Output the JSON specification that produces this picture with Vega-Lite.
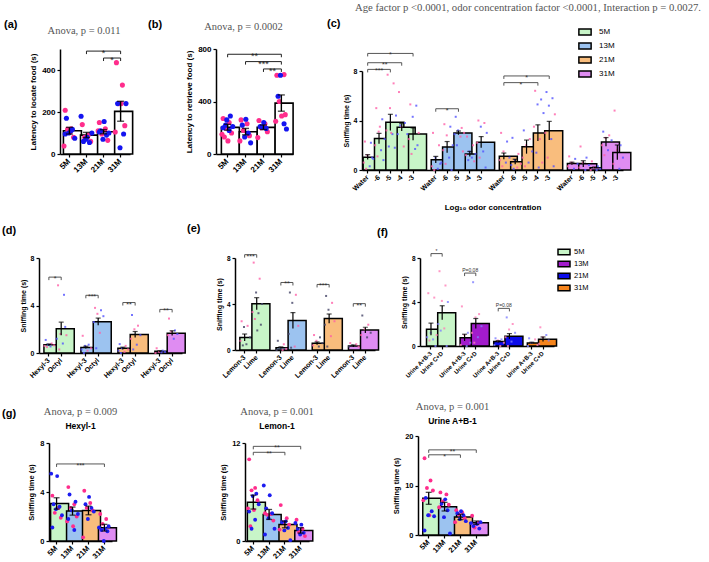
{
"$schema": "https://vega.github.io/schema/vega-lite/v6.json",
"padding": {"left": 2, "top": 2, "right": 2, "bottom": 2},
"background": "white",
"title": {"text": "Age factor p <0.0001, odor concentration factor <0.0001, Interaction p = 0.0027.", "anchor": "start", "frame": "group", "dx": 316, "fontSize": 10.7, "offset": 4},
"config": {
 "view": {"stroke": null},
 "font": "Liberation Sans",
 "axis": {"grid": false, "domainColor": "#000", "domainWidth": 1.5, "tickColor": "#000", "tickWidth": 1.2, "tickSize": 3, "labelFont": "Liberation Sans", "labelFontWeight": "bold", "labelColor": "#000", "titleFont": "Liberation Sans", "titleFontWeight": "bold", "titleColor": "#000", "labelPadding": 2, "titlePadding": 4},
 "axisX": {"labelAngle": -45, "labelAlign": "right", "labelBaseline": "middle", "labelOverlap": false, "labelPadding": 3},
 "title": {"font": "Liberation Serif", "fontSize": 10.5, "fontWeight": "normal", "color": "#555", "subtitleFont": "Liberation Sans", "subtitleFontWeight": "bold", "subtitleColor": "#000", "subtitleFontSize": 8.5, "subtitlePadding": 4},
 "legend": {"labelFont": "Liberation Sans", "labelColor": "#000"}
},
"datasets": {
 "empty": [],
 "aB": [{"k":"5M","m":111,"lo":95,"hi":127},{"k":"13M","m":90,"lo":78,"hi":103},{"k":"21M","m":106,"lo":96,"hi":116},{"k":"31M","m":203,"lo":156,"hi":251}],
 "aD": [
  {"k":"5M","v":208,"s":"F","i":2},{"k":"5M","v":120,"s":"F","i":7},{"k":"5M","v":118,"s":"F","i":4},{"k":"5M","v":80,"s":"F","i":9},{"k":"5M","v":38,"s":"F","i":1},{"k":"5M","v":105,"s":"F","i":6},{"k":"5M","v":170,"s":"M","i":3},{"k":"5M","v":118,"s":"M","i":8},{"k":"5M","v":100,"s":"M","i":5},{"k":"5M","v":75,"s":"M","i":10},{"k":"5M","v":95,"s":"M","i":2},{"k":"5M","v":112,"s":"M","i":7},
  {"k":"13M","v":140,"s":"F","i":2},{"k":"13M","v":90,"s":"F","i":7},{"k":"13M","v":80,"s":"F","i":4},{"k":"13M","v":60,"s":"F","i":9},{"k":"13M","v":180,"s":"M","i":1},{"k":"13M","v":80,"s":"M","i":6},{"k":"13M","v":60,"s":"M","i":3},{"k":"13M","v":55,"s":"M","i":8},{"k":"13M","v":70,"s":"M","i":5},{"k":"13M","v":100,"s":"M","i":10},
  {"k":"21M","v":150,"s":"F","i":2},{"k":"21M","v":120,"s":"F","i":7},{"k":"21M","v":95,"s":"F","i":4},{"k":"21M","v":65,"s":"F","i":9},{"k":"21M","v":110,"s":"F","i":1},{"k":"21M","v":155,"s":"M","i":6},{"k":"21M","v":110,"s":"M","i":3},{"k":"21M","v":90,"s":"M","i":8},{"k":"21M","v":70,"s":"M","i":5},{"k":"21M","v":100,"s":"M","i":10},{"k":"21M","v":105,"s":"M","i":2},
  {"k":"31M","v":435,"s":"F","i":2},{"k":"31M","v":328,"s":"F","i":7},{"k":"31M","v":240,"s":"F","i":4},{"k":"31M","v":135,"s":"F","i":9},{"k":"31M","v":105,"s":"F","i":1},{"k":"31M","v":240,"s":"F","i":6},{"k":"31M","v":240,"s":"M","i":3},{"k":"31M","v":95,"s":"M","i":8},{"k":"31M","v":30,"s":"M","i":5},{"k":"31M","v":240,"s":"M","i":10}],
 "aK": [{"x1":"13M","x2":"31M","y":490,"t":"*","sx":"21M","h":0},{"x1":"21M","x2":"31M","y":457,"t":"*","sx":"21M","h":1}],
 "bB": [{"k":"5M","m":203,"lo":181,"hi":226},{"k":"13M","m":170,"lo":146,"hi":195},{"k":"21M","m":203,"lo":186,"hi":221},{"k":"31M","m":388,"lo":326,"hi":450}],
 "bD": [
  {"k":"5M","v":270,"s":"F","i":2},{"k":"5M","v":240,"s":"F","i":7},{"k":"5M","v":200,"s":"F","i":4},{"k":"5M","v":160,"s":"F","i":9},{"k":"5M","v":150,"s":"F","i":1},{"k":"5M","v":100,"s":"F","i":6},{"k":"5M","v":130,"s":"F","i":3},{"k":"5M","v":290,"s":"M","i":8},{"k":"5M","v":260,"s":"M","i":5},{"k":"5M","v":210,"s":"M","i":10},{"k":"5M","v":200,"s":"M","i":2},{"k":"5M","v":180,"s":"M","i":7},{"k":"5M","v":220,"s":"M","i":4},
  {"k":"13M","v":260,"s":"F","i":2},{"k":"13M","v":230,"s":"F","i":7},{"k":"13M","v":180,"s":"F","i":4},{"k":"13M","v":140,"s":"F","i":9},{"k":"13M","v":100,"s":"F","i":1},{"k":"13M","v":265,"s":"M","i":6},{"k":"13M","v":220,"s":"M","i":3},{"k":"13M","v":160,"s":"M","i":8},{"k":"13M","v":130,"s":"M","i":5},{"k":"13M","v":85,"s":"M","i":10},
  {"k":"21M","v":255,"s":"F","i":2},{"k":"21M","v":230,"s":"F","i":7},{"k":"21M","v":200,"s":"F","i":4},{"k":"21M","v":170,"s":"F","i":9},{"k":"21M","v":125,"s":"F","i":1},{"k":"21M","v":240,"s":"M","i":6},{"k":"21M","v":210,"s":"M","i":3},{"k":"21M","v":195,"s":"M","i":8},{"k":"21M","v":205,"s":"M","i":5},
  {"k":"31M","v":600,"s":"F","i":2},{"k":"31M","v":605,"s":"F","i":8},{"k":"31M","v":400,"s":"F","i":4},{"k":"31M","v":300,"s":"F","i":9},{"k":"31M","v":250,"s":"F","i":1},{"k":"31M","v":290,"s":"F","i":6},{"k":"31M","v":600,"s":"M","i":5},{"k":"31M","v":440,"s":"M","i":3},{"k":"31M","v":230,"s":"M","i":8},{"k":"31M","v":190,"s":"M","i":10}],
 "bK": [{"x1":"5M","x2":"31M","y":760,"t":"**","sx":"13M","h":1},{"x1":"13M","x2":"31M","y":704,"t":"***","sx":"21M","h":0},{"x1":"21M","x2":"31M","y":648,"t":"**","sx":"21M","h":1}],
 "cB": [
  {"k":"5M|Water","g":"5M","m":1.04,"lo":0.84,"hi":1.24},{"k":"5M|-6","g":"5M","m":2.54,"lo":2.12,"hi":2.96},{"k":"5M|-5","g":"5M","m":3.85,"lo":3.2,"hi":4.5},{"k":"5M|-4","g":"5M","m":3.45,"lo":3.15,"hi":3.75},{"k":"5M|-3","g":"5M","m":2.9,"lo":2.4,"hi":3.4},
  {"k":"13M|Water","g":"13M","m":0.83,"lo":0.56,"hi":1.1},{"k":"13M|-6","g":"13M","m":1.85,"lo":1.4,"hi":2.3},{"k":"13M|-5","g":"13M","m":3.0,"lo":2.85,"hi":3.15},{"k":"13M|-4","g":"13M","m":1.3,"lo":1.1,"hi":1.5},{"k":"13M|-3","g":"13M","m":2.25,"lo":1.8,"hi":2.7},
  {"k":"21M|Water","g":"21M","m":1.12,"lo":0.87,"hi":1.37},{"k":"21M|-6","g":"21M","m":0.67,"lo":0.47,"hi":0.87},{"k":"21M|-5","g":"21M","m":1.87,"lo":1.32,"hi":2.42},{"k":"21M|-4","g":"21M","m":3.0,"lo":2.35,"hi":3.65},{"k":"21M|-3","g":"21M","m":3.18,"lo":2.43,"hi":3.93},
  {"k":"31M|Water","g":"31M","m":0.53,"lo":0.43,"hi":0.63},{"k":"31M|-6","g":"31M","m":0.5,"lo":0.25,"hi":0.75},{"k":"31M|-5","g":"31M","m":0.19,"lo":0.14,"hi":0.24},{"k":"31M|-4","g":"31M","m":2.27,"lo":1.92,"hi":2.62},{"k":"31M|-3","g":"31M","m":1.42,"lo":0.82,"hi":2.02}],
 "cD": [
  {"k":"5M|Water","v":2.3,"s":"F","i":2},{"k":"5M|Water","v":2.2,"s":"M","i":7},{"k":"5M|Water","v":1.2,"s":"F","i":4},{"k":"5M|Water","v":0.9,"s":"M","i":9},{"k":"5M|Water","v":0.6,"s":"F","i":1},{"k":"5M|Water","v":0.3,"s":"M","i":6},{"k":"5M|Water","v":0.1,"s":"F","i":3},{"k":"5M|Water","v":1.0,"s":"M","i":8},
  {"k":"5M|-6","v":5.0,"s":"F","i":2},{"k":"5M|-6","v":4.1,"s":"M","i":7},{"k":"5M|-6","v":3.1,"s":"F","i":4},{"k":"5M|-6","v":2.5,"s":"M","i":9},{"k":"5M|-6","v":2.0,"s":"F","i":1},{"k":"5M|-6","v":1.6,"s":"M","i":6},{"k":"5M|-6","v":1.1,"s":"F","i":3},{"k":"5M|-6","v":0.8,"s":"M","i":8},{"k":"5M|-6","v":3.5,"s":"F","i":5},
  {"k":"5M|-5","v":7.7,"s":"F","i":2},{"k":"5M|-5","v":7.0,"s":"F","i":7},{"k":"5M|-5","v":5.0,"s":"F","i":4},{"k":"5M|-5","v":4.4,"s":"M","i":9},{"k":"5M|-5","v":3.2,"s":"F","i":1},{"k":"5M|-5","v":2.9,"s":"M","i":6},{"k":"5M|-5","v":1.9,"s":"M","i":3},{"k":"5M|-5","v":1.8,"s":"M","i":8},{"k":"5M|-5","v":3.0,"s":"F","i":5},
  {"k":"5M|-4","v":6.3,"s":"F","i":2},{"k":"5M|-4","v":3.8,"s":"M","i":7},{"k":"5M|-4","v":3.5,"s":"F","i":4},{"k":"5M|-4","v":2.9,"s":"M","i":9},{"k":"5M|-4","v":2.9,"s":"M","i":1},{"k":"5M|-4","v":1.9,"s":"F","i":6},{"k":"5M|-4","v":3.6,"s":"M","i":3},
  {"k":"5M|-3","v":5.3,"s":"F","i":2},{"k":"5M|-3","v":5.2,"s":"M","i":7},{"k":"5M|-3","v":4.3,"s":"M","i":4},{"k":"5M|-3","v":3.0,"s":"F","i":9},{"k":"5M|-3","v":2.5,"s":"F","i":1},{"k":"5M|-3","v":1.7,"s":"M","i":6},{"k":"5M|-3","v":1.3,"s":"F","i":3},{"k":"5M|-3","v":2.0,"s":"M","i":8},
  {"k":"13M|Water","v":3.0,"s":"F","i":2},{"k":"13M|Water","v":2.0,"s":"F","i":7},{"k":"13M|Water","v":1.0,"s":"M","i":4},{"k":"13M|Water","v":0.6,"s":"M","i":9},{"k":"13M|Water","v":0.3,"s":"F","i":1},{"k":"13M|Water","v":0.1,"s":"M","i":6},{"k":"13M|Water","v":0.0,"s":"F","i":3},{"k":"13M|Water","v":0.5,"s":"M","i":8},
  {"k":"13M|-6","v":3.7,"s":"F","i":2},{"k":"13M|-6","v":3.5,"s":"M","i":7},{"k":"13M|-6","v":2.8,"s":"F","i":4},{"k":"13M|-6","v":2.0,"s":"M","i":9},{"k":"13M|-6","v":1.6,"s":"F","i":1},{"k":"13M|-6","v":1.0,"s":"M","i":6},{"k":"13M|-6","v":0.5,"s":"F","i":3},{"k":"13M|-6","v":0.0,"s":"M","i":8},
  {"k":"13M|-5","v":4.3,"s":"M","i":2},{"k":"13M|-5","v":3.4,"s":"F","i":7},{"k":"13M|-5","v":3.2,"s":"M","i":4},{"k":"13M|-5","v":3.0,"s":"F","i":9},{"k":"13M|-5","v":2.9,"s":"M","i":1},{"k":"13M|-5","v":2.7,"s":"F","i":6},{"k":"13M|-5","v":2.0,"s":"M","i":3},{"k":"13M|-5","v":1.5,"s":"F","i":8},
  {"k":"13M|-4","v":2.7,"s":"F","i":2},{"k":"13M|-4","v":2.0,"s":"F","i":7},{"k":"13M|-4","v":1.5,"s":"M","i":4},{"k":"13M|-4","v":1.3,"s":"M","i":9},{"k":"13M|-4","v":1.2,"s":"F","i":1},{"k":"13M|-4","v":1.0,"s":"M","i":6},{"k":"13M|-4","v":0.8,"s":"M","i":3},{"k":"13M|-4","v":0.7,"s":"F","i":8},
  {"k":"13M|-3","v":4.0,"s":"F","i":2},{"k":"13M|-3","v":3.8,"s":"F","i":7},{"k":"13M|-3","v":3.5,"s":"M","i":4},{"k":"13M|-3","v":3.0,"s":"M","i":9},{"k":"13M|-3","v":2.2,"s":"F","i":1},{"k":"13M|-3","v":1.5,"s":"M","i":6},{"k":"13M|-3","v":1.0,"s":"F","i":3},{"k":"13M|-3","v":0.2,"s":"M","i":8},
  {"k":"21M|Water","v":3.0,"s":"F","i":2},{"k":"21M|Water","v":2.3,"s":"M","i":7},{"k":"21M|Water","v":1.5,"s":"F","i":4},{"k":"21M|Water","v":1.0,"s":"M","i":9},{"k":"21M|Water","v":0.8,"s":"F","i":1},{"k":"21M|Water","v":0.6,"s":"M","i":6},{"k":"21M|Water","v":0.3,"s":"F","i":3},
  {"k":"21M|-6","v":2.6,"s":"M","i":2},{"k":"21M|-6","v":1.3,"s":"F","i":7},{"k":"21M|-6","v":0.8,"s":"M","i":4},{"k":"21M|-6","v":0.5,"s":"F","i":9},{"k":"21M|-6","v":0.4,"s":"M","i":1},{"k":"21M|-6","v":0.2,"s":"F","i":6},{"k":"21M|-6","v":0.1,"s":"M","i":3},
  {"k":"21M|-5","v":3.2,"s":"M","i":2},{"k":"21M|-5","v":2.5,"s":"F","i":7},{"k":"21M|-5","v":2.0,"s":"F","i":4},{"k":"21M|-5","v":1.5,"s":"M","i":9},{"k":"21M|-5","v":1.0,"s":"F","i":1},{"k":"21M|-5","v":0.6,"s":"M","i":6},{"k":"21M|-5","v":0.3,"s":"F","i":3},
  {"k":"21M|-4","v":6.4,"s":"F","i":2},{"k":"21M|-4","v":5.7,"s":"M","i":7},{"k":"21M|-4","v":5.3,"s":"M","i":4},{"k":"21M|-4","v":4.6,"s":"M","i":9},{"k":"21M|-4","v":3.5,"s":"F","i":1},{"k":"21M|-4","v":2.5,"s":"F","i":6},{"k":"21M|-4","v":1.4,"s":"M","i":3},{"k":"21M|-4","v":0.6,"s":"F","i":8},{"k":"21M|-4","v":0.2,"s":"M","i":5},
  {"k":"21M|-3","v":6.3,"s":"M","i":2},{"k":"21M|-3","v":5.8,"s":"M","i":7},{"k":"21M|-3","v":5.2,"s":"M","i":4},{"k":"21M|-3","v":4.5,"s":"F","i":9},{"k":"21M|-3","v":3.0,"s":"F","i":1},{"k":"21M|-3","v":2.5,"s":"M","i":6},{"k":"21M|-3","v":1.0,"s":"F","i":3},{"k":"21M|-3","v":0.3,"s":"M","i":8},
  {"k":"31M|Water","v":1.1,"s":"F","i":2},{"k":"31M|Water","v":0.9,"s":"M","i":7},{"k":"31M|Water","v":0.6,"s":"F","i":4},{"k":"31M|Water","v":0.5,"s":"M","i":9},{"k":"31M|Water","v":0.3,"s":"F","i":1},{"k":"31M|Water","v":0.1,"s":"M","i":6},
  {"k":"31M|-6","v":1.9,"s":"F","i":2},{"k":"31M|-6","v":1.0,"s":"M","i":7},{"k":"31M|-6","v":0.6,"s":"F","i":4},{"k":"31M|-6","v":0.4,"s":"M","i":9},{"k":"31M|-6","v":0.2,"s":"F","i":1},{"k":"31M|-6","v":0.0,"s":"M","i":6},
  {"k":"31M|-5","v":0.7,"s":"F","i":2},{"k":"31M|-5","v":0.3,"s":"M","i":7},{"k":"31M|-5","v":0.2,"s":"F","i":4},{"k":"31M|-5","v":0.1,"s":"M","i":9},{"k":"31M|-5","v":0.0,"s":"F","i":1},{"k":"31M|-5","v":0.0,"s":"M","i":6},
  {"k":"31M|-4","v":3.1,"s":"M","i":2},{"k":"31M|-4","v":2.8,"s":"F","i":7},{"k":"31M|-4","v":2.6,"s":"F","i":4},{"k":"31M|-4","v":2.4,"s":"M","i":9},{"k":"31M|-4","v":2.0,"s":"F","i":1},{"k":"31M|-4","v":1.6,"s":"M","i":6},{"k":"31M|-4","v":1.2,"s":"F","i":3},
  {"k":"31M|-3","v":4.8,"s":"F","i":2},{"k":"31M|-3","v":2.0,"s":"M","i":7},{"k":"31M|-3","v":1.6,"s":"F","i":4},{"k":"31M|-3","v":1.0,"s":"M","i":9},{"k":"31M|-3","v":0.5,"s":"F","i":1},{"k":"31M|-3","v":0.1,"s":"M","i":6}],
 "cK": [
  {"x1":"5M|Water","x2":"5M|-3","y":9.42,"t":"*","sx":"5M|-5","h":0},
  {"x1":"5M|Water","x2":"5M|-4","y":8.67,"t":"**","sx":"5M|-6","h":1},
  {"x1":"5M|Water","x2":"5M|-5","y":8.13,"t":"***","sx":"5M|-6","h":0},
  {"x1":"13M|Water","x2":"13M|-5","y":4.95,"t":"*","sx":"13M|-6","h":0},
  {"x1":"21M|Water","x2":"21M|-3","y":7.6,"t":"*","sx":"21M|-5","h":0},
  {"x1":"21M|Water","x2":"21M|-4","y":7.06,"t":"*","sx":"21M|-6","h":1}],
 "dB": [
  {"k":"5M|Hexyl-3","g":"5M","m":0.69,"lo":0.62,"hi":0.76},{"k":"5M|Octyl","g":"5M","m":2.05,"lo":1.5,"hi":2.6},
  {"k":"13M|Hexyl-3","g":"13M","m":0.47,"lo":0.37,"hi":0.57},{"k":"13M|Octyl","g":"13M","m":2.64,"lo":2.34,"hi":2.94},
  {"k":"21M|Hexyl-3","g":"21M","m":0.39,"lo":0.29,"hi":0.49},{"k":"21M|Octyl","g":"21M","m":1.56,"lo":1.31,"hi":1.81},
  {"k":"31M|Hexyl-3","g":"31M","m":0.14,"lo":0.09,"hi":0.19},{"k":"31M|Octyl","g":"31M","m":1.67,"lo":1.47,"hi":1.87}],
 "dD": [
  {"k":"5M|Hexyl-3","v":1.1,"s":"M","i":2},{"k":"5M|Hexyl-3","v":0.8,"s":"F","i":7},{"k":"5M|Hexyl-3","v":0.7,"s":"M","i":4},{"k":"5M|Hexyl-3","v":0.65,"s":"F","i":9},{"k":"5M|Hexyl-3","v":0.6,"s":"F","i":1},{"k":"5M|Hexyl-3","v":0.55,"s":"M","i":6},{"k":"5M|Hexyl-3","v":0.5,"s":"F","i":3},
  {"k":"5M|Octyl","v":5.7,"s":"F","i":2},{"k":"5M|Octyl","v":4.9,"s":"M","i":7},{"k":"5M|Octyl","v":1.6,"s":"F","i":4},{"k":"5M|Octyl","v":1.5,"s":"F","i":9},{"k":"5M|Octyl","v":1.2,"s":"M","i":1},{"k":"5M|Octyl","v":0.8,"s":"M","i":6},{"k":"5M|Octyl","v":0.3,"s":"F","i":3},{"k":"5M|Octyl","v":2.2,"s":"M","i":8},
  {"k":"13M|Hexyl-3","v":1.45,"s":"F","i":2},{"k":"13M|Hexyl-3","v":0.7,"s":"M","i":7},{"k":"13M|Hexyl-3","v":0.6,"s":"M","i":4},{"k":"13M|Hexyl-3","v":0.4,"s":"F","i":9},{"k":"13M|Hexyl-3","v":0.3,"s":"M","i":1},{"k":"13M|Hexyl-3","v":0.2,"s":"F","i":6},{"k":"13M|Hexyl-3","v":0.0,"s":"M","i":3},
  {"k":"13M|Octyl","v":3.8,"s":"F","i":2},{"k":"13M|Octyl","v":3.6,"s":"M","i":7},{"k":"13M|Octyl","v":3.3,"s":"F","i":4},{"k":"13M|Octyl","v":3.1,"s":"M","i":9},{"k":"13M|Octyl","v":2.6,"s":"M","i":1},{"k":"13M|Octyl","v":1.7,"s":"F","i":6},{"k":"13M|Octyl","v":0.4,"s":"M","i":3},
  {"k":"21M|Hexyl-3","v":0.75,"s":"M","i":2},{"k":"21M|Hexyl-3","v":0.6,"s":"F","i":7},{"k":"21M|Hexyl-3","v":0.4,"s":"M","i":4},{"k":"21M|Hexyl-3","v":0.3,"s":"F","i":9},{"k":"21M|Hexyl-3","v":0.2,"s":"M","i":1},{"k":"21M|Hexyl-3","v":0.1,"s":"F","i":6},{"k":"21M|Hexyl-3","v":0.0,"s":"M","i":3},
  {"k":"21M|Octyl","v":3.2,"s":"M","i":2},{"k":"21M|Octyl","v":2.3,"s":"F","i":7},{"k":"21M|Octyl","v":2.0,"s":"F","i":4},{"k":"21M|Octyl","v":1.5,"s":"M","i":9},{"k":"21M|Octyl","v":1.2,"s":"F","i":1},{"k":"21M|Octyl","v":0.7,"s":"M","i":6},{"k":"21M|Octyl","v":0.3,"s":"M","i":3},
  {"k":"31M|Hexyl-3","v":0.4,"s":"F","i":2},{"k":"31M|Hexyl-3","v":0.2,"s":"M","i":7},{"k":"31M|Hexyl-3","v":0.1,"s":"F","i":4},{"k":"31M|Hexyl-3","v":0.1,"s":"M","i":9},{"k":"31M|Hexyl-3","v":0.0,"s":"F","i":1},{"k":"31M|Hexyl-3","v":0.05,"s":"M","i":6},
  {"k":"31M|Octyl","v":2.9,"s":"F","i":2},{"k":"31M|Octyl","v":1.9,"s":"M","i":7},{"k":"31M|Octyl","v":1.8,"s":"F","i":4},{"k":"31M|Octyl","v":1.6,"s":"M","i":9},{"k":"31M|Octyl","v":1.5,"s":"F","i":1},{"k":"31M|Octyl","v":1.2,"s":"M","i":6}],
 "dK": [
  {"x1":"5M|Hexyl-3","x2":"5M|Octyl","y":6.39,"t":"*","sx":"5M|Hexyl-3","h":1},
  {"x1":"13M|Hexyl-3","x2":"13M|Octyl","y":4.86,"t":"***","sx":"13M|Hexyl-3","h":1},
  {"x1":"21M|Hexyl-3","x2":"21M|Octyl","y":4.25,"t":"**","sx":"21M|Hexyl-3","h":1},
  {"x1":"31M|Hexyl-3","x2":"31M|Octyl","y":3.67,"t":"**","sx":"31M|Hexyl-3","h":1}],
 "eB": [
  {"k":"5M|Lemon-3","g":"5M","m":1.09,"lo":0.79,"hi":1.39},{"k":"5M|Lime","g":"5M","m":4.03,"lo":3.51,"hi":4.55},
  {"k":"13M|Lemon-3","g":"13M","m":0.2,"lo":0.13,"hi":0.27},{"k":"13M|Lime","g":"13M","m":2.56,"lo":1.87,"hi":3.25},
  {"k":"21M|Lemon-3","g":"21M","m":0.58,"lo":0.46,"hi":0.7},{"k":"21M|Lime","g":"21M","m":2.73,"lo":2.33,"hi":3.13},
  {"k":"31M|Lemon-3","g":"31M","m":0.35,"lo":0.27,"hi":0.43},{"k":"31M|Lime","g":"31M","m":1.73,"lo":1.48,"hi":1.98}],
 "eD": [
  {"k":"5M|Lemon-3","v":2.5,"s":"F","i":2},{"k":"5M|Lemon-3","v":2.1,"s":"F","i":7},{"k":"5M|Lemon-3","v":2.0,"s":"M","i":4},{"k":"5M|Lemon-3","v":1.1,"s":"M","i":9},{"k":"5M|Lemon-3","v":0.8,"s":"F","i":1},{"k":"5M|Lemon-3","v":0.5,"s":"M","i":6},{"k":"5M|Lemon-3","v":0.4,"s":"M","i":3},
  {"k":"5M|Lime","v":7.6,"s":"F","i":2},{"k":"5M|Lime","v":6.2,"s":"F","i":7},{"k":"5M|Lime","v":5.0,"s":"M","i":4},{"k":"5M|Lime","v":4.0,"s":"M","i":9},{"k":"5M|Lime","v":3.3,"s":"F","i":1},{"k":"5M|Lime","v":3.2,"s":"M","i":6},{"k":"5M|Lime","v":2.7,"s":"F","i":3},{"k":"5M|Lime","v":2.2,"s":"M","i":8},{"k":"5M|Lime","v":1.7,"s":"M","i":5},
  {"k":"13M|Lemon-3","v":0.8,"s":"M","i":2},{"k":"13M|Lemon-3","v":0.5,"s":"F","i":7},{"k":"13M|Lemon-3","v":0.2,"s":"M","i":4},{"k":"13M|Lemon-3","v":0.1,"s":"F","i":9},{"k":"13M|Lemon-3","v":0.0,"s":"M","i":1},{"k":"13M|Lemon-3","v":0.0,"s":"F","i":6},
  {"k":"13M|Lime","v":5.0,"s":"M","i":2},{"k":"13M|Lime","v":4.8,"s":"F","i":7},{"k":"13M|Lime","v":4.1,"s":"M","i":4},{"k":"13M|Lime","v":2.1,"s":"F","i":9},{"k":"13M|Lime","v":1.4,"s":"M","i":1},{"k":"13M|Lime","v":0.3,"s":"F","i":6},{"k":"13M|Lime","v":0.2,"s":"M","i":3},
  {"k":"21M|Lemon-3","v":1.3,"s":"F","i":2},{"k":"21M|Lemon-3","v":1.1,"s":"M","i":7},{"k":"21M|Lemon-3","v":0.8,"s":"F","i":4},{"k":"21M|Lemon-3","v":0.6,"s":"M","i":9},{"k":"21M|Lemon-3","v":0.4,"s":"F","i":1},{"k":"21M|Lemon-3","v":0.3,"s":"M","i":6},
  {"k":"21M|Lime","v":4.7,"s":"M","i":2},{"k":"21M|Lime","v":4.1,"s":"F","i":7},{"k":"21M|Lime","v":3.5,"s":"M","i":4},{"k":"21M|Lime","v":2.5,"s":"F","i":9},{"k":"21M|Lime","v":2.2,"s":"M","i":1},{"k":"21M|Lime","v":1.2,"s":"F","i":6},{"k":"21M|Lime","v":0.3,"s":"M","i":3},
  {"k":"31M|Lemon-3","v":0.6,"s":"F","i":2},{"k":"31M|Lemon-3","v":0.5,"s":"F","i":7},{"k":"31M|Lemon-3","v":0.4,"s":"M","i":4},{"k":"31M|Lemon-3","v":0.3,"s":"F","i":9},{"k":"31M|Lemon-3","v":0.3,"s":"M","i":1},
  {"k":"31M|Lime","v":3.0,"s":"M","i":2},{"k":"31M|Lime","v":2.2,"s":"F","i":7},{"k":"31M|Lime","v":1.8,"s":"F","i":4},{"k":"31M|Lime","v":1.5,"s":"M","i":9},{"k":"31M|Lime","v":1.3,"s":"F","i":1},{"k":"31M|Lime","v":1.1,"s":"M","i":6}],
 "eK": [
  {"x1":"5M|Lemon-3","x2":"5M|Lime","y":8.29,"t":"***","sx":"5M|Lemon-3","h":1},
  {"x1":"13M|Lemon-3","x2":"13M|Lime","y":5.87,"t":"**","sx":"13M|Lemon-3","h":1},
  {"x1":"21M|Lemon-3","x2":"21M|Lime","y":5.7,"t":"***","sx":"21M|Lemon-3","h":1},
  {"x1":"31M|Lemon-3","x2":"31M|Lime","y":4.03,"t":"**","sx":"31M|Lemon-3","h":1}],
 "fB": [
  {"k":"5M|Urine A+B-3","g":"5M","m":1.53,"lo":0.98,"hi":2.08},{"k":"5M|Urine C+D","g":"5M","m":3.02,"lo":2.38,"hi":3.66},
  {"k":"13M|Urine A+B-3","g":"13M","m":0.76,"lo":0.46,"hi":1.07},{"k":"13M|Urine C+D","g":"13M","m":2.05,"lo":1.6,"hi":2.5},
  {"k":"21M|Urine A+B-3","g":"21M","m":0.4,"lo":0.32,"hi":0.48},{"k":"21M|Urine C+D","g":"21M","m":0.89,"lo":0.65,"hi":1.13},
  {"k":"31M|Urine A+B-3","g":"31M","m":0.27,"lo":0.2,"hi":0.34},{"k":"31M|Urine C+D","g":"31M","m":0.61,"lo":0.41,"hi":0.82}],
 "fD": [
  {"k":"5M|Urine A+B-3","v":4.8,"s":"F","i":2},{"k":"5M|Urine A+B-3","v":4.4,"s":"F","i":7},{"k":"5M|Urine A+B-3","v":1.2,"s":"M","i":4},{"k":"5M|Urine A+B-3","v":1.0,"s":"F","i":9},{"k":"5M|Urine A+B-3","v":0.8,"s":"M","i":1},{"k":"5M|Urine A+B-3","v":0.6,"s":"M","i":6},{"k":"5M|Urine A+B-3","v":0.5,"s":"F","i":3},{"k":"5M|Urine A+B-3","v":0.0,"s":"M","i":8},
  {"k":"5M|Urine C+D","v":6.8,"s":"F","i":2},{"k":"5M|Urine C+D","v":5.5,"s":"F","i":7},{"k":"5M|Urine C+D","v":4.1,"s":"F","i":4},{"k":"5M|Urine C+D","v":4.0,"s":"M","i":9},{"k":"5M|Urine C+D","v":2.0,"s":"M","i":1},{"k":"5M|Urine C+D","v":1.6,"s":"F","i":6},{"k":"5M|Urine C+D","v":1.4,"s":"M","i":3},{"k":"5M|Urine C+D","v":0.0,"s":"M","i":8},
  {"k":"13M|Urine A+B-3","v":3.6,"s":"F","i":2},{"k":"13M|Urine A+B-3","v":1.2,"s":"M","i":7},{"k":"13M|Urine A+B-3","v":1.0,"s":"F","i":4},{"k":"13M|Urine A+B-3","v":0.3,"s":"M","i":9},{"k":"13M|Urine A+B-3","v":0.1,"s":"F","i":1},{"k":"13M|Urine A+B-3","v":0.0,"s":"M","i":6},
  {"k":"13M|Urine C+D","v":5.8,"s":"M","i":2},{"k":"13M|Urine C+D","v":2.9,"s":"F","i":7},{"k":"13M|Urine C+D","v":2.6,"s":"F","i":4},{"k":"13M|Urine C+D","v":1.8,"s":"M","i":9},{"k":"13M|Urine C+D","v":1.2,"s":"F","i":1},{"k":"13M|Urine C+D","v":0.8,"s":"M","i":6},{"k":"13M|Urine C+D","v":0.3,"s":"F","i":3},
  {"k":"21M|Urine A+B-3","v":0.7,"s":"M","i":2},{"k":"21M|Urine A+B-3","v":0.6,"s":"M","i":7},{"k":"21M|Urine A+B-3","v":0.5,"s":"F","i":4},{"k":"21M|Urine A+B-3","v":0.3,"s":"F","i":9},{"k":"21M|Urine A+B-3","v":0.1,"s":"M","i":1},{"k":"21M|Urine A+B-3","v":0.0,"s":"F","i":6},
  {"k":"21M|Urine C+D","v":2.6,"s":"M","i":2},{"k":"21M|Urine C+D","v":2.0,"s":"F","i":7},{"k":"21M|Urine C+D","v":1.5,"s":"F","i":4},{"k":"21M|Urine C+D","v":1.2,"s":"M","i":9},{"k":"21M|Urine C+D","v":0.8,"s":"F","i":1},{"k":"21M|Urine C+D","v":0.4,"s":"M","i":6},{"k":"21M|Urine C+D","v":0.0,"s":"F","i":3},
  {"k":"31M|Urine A+B-3","v":0.7,"s":"M","i":2},{"k":"31M|Urine A+B-3","v":0.6,"s":"F","i":7},{"k":"31M|Urine A+B-3","v":0.3,"s":"M","i":4},{"k":"31M|Urine A+B-3","v":0.1,"s":"F","i":9},{"k":"31M|Urine A+B-3","v":0.0,"s":"M","i":1},
  {"k":"31M|Urine C+D","v":1.7,"s":"F","i":2},{"k":"31M|Urine C+D","v":1.0,"s":"M","i":7},{"k":"31M|Urine C+D","v":0.8,"s":"F","i":4},{"k":"31M|Urine C+D","v":0.5,"s":"M","i":9},{"k":"31M|Urine C+D","v":0.2,"s":"F","i":1}],
 "fK": [
  {"x1":"5M|Urine A+B-3","x2":"5M|Urine C+D","y":8.4,"t":"*","sx":"5M|Urine A+B-3","h":1},
  {"x1":"13M|Urine A+B-3","x2":"13M|Urine C+D","y":6.63,"t":"P=0.08","sx":"13M|Urine A+B-3","h":1},
  {"x1":"21M|Urine A+B-3","x2":"21M|Urine C+D","y":3.42,"t":"P=0.08","sx":"21M|Urine A+B-3","h":1}],
 "g1B": [{"k":"5M","m":3.06,"lo":2.6,"hi":3.53},{"k":"13M","m":2.44,"lo":2.11,"hi":2.77},{"k":"21M","m":2.49,"lo":2.14,"hi":2.85},{"k":"31M","m":1.08,"lo":0.81,"hi":1.36}],
 "g1D": [
  {"k":"5M","v":3.7,"s":"F","i":2},{"k":"5M","v":2.7,"s":"F","i":7},{"k":"5M","v":2.3,"s":"F","i":4},{"k":"5M","v":1.9,"s":"F","i":9},{"k":"5M","v":5.5,"s":"M","i":1},{"k":"5M","v":5.3,"s":"M","i":6},{"k":"5M","v":3.0,"s":"M","i":3},{"k":"5M","v":2.8,"s":"M","i":8},{"k":"5M","v":2.6,"s":"M","i":5},{"k":"5M","v":2.1,"s":"M","i":10},{"k":"5M","v":1.1,"s":"M","i":2},
  {"k":"13M","v":4.4,"s":"F","i":2},{"k":"13M","v":3.0,"s":"F","i":7},{"k":"13M","v":2.7,"s":"F","i":4},{"k":"13M","v":2.0,"s":"F","i":9},{"k":"13M","v":1.6,"s":"F","i":1},{"k":"13M","v":1.2,"s":"F","i":6},{"k":"13M","v":3.8,"s":"M","i":3},{"k":"13M","v":3.2,"s":"M","i":8},{"k":"13M","v":2.5,"s":"M","i":5},{"k":"13M","v":2.2,"s":"M","i":10},{"k":"13M","v":1.8,"s":"M","i":2},{"k":"13M","v":0.9,"s":"M","i":7},
  {"k":"21M","v":4.1,"s":"F","i":2},{"k":"21M","v":3.1,"s":"F","i":7},{"k":"21M","v":2.7,"s":"F","i":4},{"k":"21M","v":2.5,"s":"F","i":9},{"k":"21M","v":0.3,"s":"F","i":1},{"k":"21M","v":3.6,"s":"M","i":6},{"k":"21M","v":3.0,"s":"M","i":3},{"k":"21M","v":2.7,"s":"M","i":8},{"k":"21M","v":1.8,"s":"M","i":5},{"k":"21M","v":2.4,"s":"M","i":10},
  {"k":"31M","v":2.2,"s":"F","i":2},{"k":"31M","v":1.8,"s":"F","i":7},{"k":"31M","v":1.4,"s":"F","i":4},{"k":"31M","v":1.2,"s":"M","i":9},{"k":"31M","v":1.1,"s":"M","i":1},{"k":"31M","v":1.0,"s":"M","i":6},{"k":"31M","v":0.9,"s":"M","i":3},{"k":"31M","v":0.8,"s":"M","i":8},{"k":"31M","v":0.0,"s":"M","i":5}],
 "g1K": [{"x1":"5M","x2":"31M","y":6.29,"t":"***","sx":"13M","h":1}],
 "g2B": [{"k":"5M","m":4.76,"lo":3.91,"hi":5.61},{"k":"13M","m":3.25,"lo":2.64,"hi":3.86},{"k":"21M","m":2.03,"lo":1.62,"hi":2.44},{"k":"31M","m":1.3,"lo":0.97,"hi":1.63}],
 "g2D": [
  {"k":"5M","v":10.0,"s":"F","i":2},{"k":"5M","v":6.5,"s":"F","i":7},{"k":"5M","v":6.2,"s":"F","i":4},{"k":"5M","v":5.0,"s":"F","i":9},{"k":"5M","v":4.0,"s":"F","i":1},{"k":"5M","v":3.8,"s":"F","i":6},{"k":"5M","v":1.8,"s":"F","i":3},{"k":"5M","v":5.8,"s":"M","i":8},{"k":"5M","v":5.5,"s":"M","i":5},{"k":"5M","v":4.5,"s":"M","i":10},{"k":"5M","v":3.6,"s":"M","i":2},{"k":"5M","v":2.6,"s":"M","i":7},{"k":"5M","v":1.5,"s":"M","i":4},
  {"k":"13M","v":3.4,"s":"F","i":2},{"k":"13M","v":3.3,"s":"F","i":7},{"k":"13M","v":3.2,"s":"F","i":4},{"k":"13M","v":2.5,"s":"F","i":9},{"k":"13M","v":6.8,"s":"M","i":1},{"k":"13M","v":5.6,"s":"M","i":6},{"k":"13M","v":4.0,"s":"M","i":3},{"k":"13M","v":3.4,"s":"M","i":8},{"k":"13M","v":2.8,"s":"M","i":5},{"k":"13M","v":1.5,"s":"M","i":10},{"k":"13M","v":0.8,"s":"M","i":2},
  {"k":"21M","v":4.4,"s":"F","i":2},{"k":"21M","v":2.8,"s":"F","i":7},{"k":"21M","v":2.3,"s":"F","i":4},{"k":"21M","v":2.0,"s":"F","i":9},{"k":"21M","v":1.4,"s":"F","i":1},{"k":"21M","v":2.4,"s":"M","i":6},{"k":"21M","v":2.3,"s":"M","i":3},{"k":"21M","v":1.6,"s":"M","i":8},{"k":"21M","v":1.3,"s":"M","i":5},{"k":"21M","v":0.1,"s":"M","i":10},
  {"k":"31M","v":2.6,"s":"F","i":2},{"k":"31M","v":1.5,"s":"F","i":7},{"k":"31M","v":1.1,"s":"F","i":4},{"k":"31M","v":0.6,"s":"F","i":9},{"k":"31M","v":2.2,"s":"M","i":1},{"k":"31M","v":2.0,"s":"M","i":6},{"k":"31M","v":1.5,"s":"M","i":3},{"k":"31M","v":1.0,"s":"M","i":8},{"k":"31M","v":0.8,"s":"M","i":5}],
 "g2K": [{"x1":"5M","x2":"31M","y":11.59,"t":"**","sx":"13M","h":1},{"x1":"5M","x2":"21M","y":10.86,"t":"**","sx":"13M","h":0}],
 "g3B": [{"k":"5M","m":7.41,"lo":6.2,"hi":8.62},{"k":"13M","m":5.72,"lo":4.85,"hi":6.6},{"k":"21M","m":3.64,"lo":3.1,"hi":4.18},{"k":"31M","m":2.49,"lo":2.15,"hi":2.83}],
 "g3D": [
  {"k":"5M","v":15.5,"s":"F","i":2},{"k":"5M","v":11.0,"s":"F","i":7},{"k":"5M","v":9.5,"s":"F","i":4},{"k":"5M","v":9.0,"s":"F","i":9},{"k":"5M","v":7.0,"s":"F","i":1},{"k":"5M","v":4.0,"s":"F","i":6},{"k":"5M","v":7.5,"s":"M","i":3},{"k":"5M","v":4.8,"s":"M","i":8},{"k":"5M","v":4.0,"s":"M","i":5},{"k":"5M","v":3.8,"s":"M","i":10},{"k":"5M","v":0.9,"s":"M","i":2},
  {"k":"13M","v":8.6,"s":"F","i":2},{"k":"13M","v":8.2,"s":"F","i":7},{"k":"13M","v":6.8,"s":"F","i":4},{"k":"13M","v":6.1,"s":"F","i":9},{"k":"13M","v":5.6,"s":"F","i":1},{"k":"13M","v":7.2,"s":"M","i":6},{"k":"13M","v":6.3,"s":"M","i":3},{"k":"13M","v":5.0,"s":"M","i":8},{"k":"13M","v":3.6,"s":"M","i":5},{"k":"13M","v":0.3,"s":"M","i":10},
  {"k":"21M","v":5.0,"s":"F","i":2},{"k":"21M","v":4.6,"s":"F","i":7},{"k":"21M","v":4.2,"s":"F","i":4},{"k":"21M","v":3.4,"s":"F","i":9},{"k":"21M","v":2.6,"s":"F","i":1},{"k":"21M","v":4.8,"s":"M","i":6},{"k":"21M","v":4.4,"s":"M","i":3},{"k":"21M","v":4.0,"s":"M","i":8},{"k":"21M","v":3.2,"s":"M","i":5},{"k":"21M","v":2.8,"s":"M","i":10},
  {"k":"31M","v":3.9,"s":"F","i":2},{"k":"31M","v":2.5,"s":"F","i":7},{"k":"31M","v":1.5,"s":"F","i":4},{"k":"31M","v":2.6,"s":"M","i":9},{"k":"31M","v":2.4,"s":"M","i":1},{"k":"31M","v":2.2,"s":"M","i":6},{"k":"31M","v":1.8,"s":"M","i":3},{"k":"31M","v":1.3,"s":"M","i":8}],
 "g3K": [{"x1":"5M","x2":"31M","y":17.2,"t":"**","sx":"13M","h":1},{"x1":"5M","x2":"21M","y":16.2,"t":"*","sx":"13M","h":0}]
},
"bounds": "full",
"spacing": 23,
"resolve": {"scale": {"fill": "independent", "color": "independent"}, "legend": {"fill": "independent"}},
"vconcat": [
 {"vconcat": [
  {"hconcat": [
   {"width": 21, "height": 1, "data": {"name": "empty"}, "mark": {"type": "point", "opacity": 0}, "title": {"text": "(a)", "anchor": "start", "frame": "group", "dx": -35, "font": "Liberation Sans", "fontSize": 11, "fontWeight": "bold", "color": "#000", "offset": 19}},
   {"width": 70, "height": 105, "title": {"text": "Anova, p = 0.011", "frame": "group", "dx": -11, "offset": 13},
    "layer": [
     {"data": {"name": "aB"}, "mark": {"type": "bar", "fill": "white", "stroke": "black", "strokeWidth": 1.6},
      "encoding": {"x": {"field": "k", "type": "nominal", "sort": null, "scale": {"domain": ["5M","13M","21M","31M"], "paddingInner": 0.3, "paddingOuter": 0.2}, "axis": {"title": null, "labelFontSize": 8}},
       "y": {"field": "m", "type": "quantitative", "scale": {"domain": [0, 500], "nice": false}, "axis": {"title": "Latency to locate food (s)", "values": [0,100,200,300,400,500], "labelFontSize": 8, "titleFontSize": 8}}}},
     {"data": {"name": "aD"}, "mark": {"type": "circle", "size": 26, "opacity": 1},
      "encoding": {"x": {"field": "k", "type": "nominal"}, "xOffset": {"field": "i", "type": "nominal", "scale": {"domain": [1,2,3,4,5,6,7,8,9,10]}}, "y": {"field": "v", "type": "quantitative"}, "color": {"condition": {"test": "datum.s == 'F'", "value": "#ff2d8c"}, "value": "#1414f0"}}},
     {"data": {"name": "aB"}, "mark": {"type": "rule", "color": "black", "strokeWidth": 1.4},
      "encoding": {"x": {"field": "k", "type": "nominal"}, "y": {"field": "lo", "type": "quantitative"}, "y2": {"field": "hi"}}},
     {"data": {"name": "aB"}, "mark": {"type": "tick", "orient": "horizontal", "color": "black", "thickness": 1.4, "size": 7},
      "encoding": {"x": {"field": "k", "type": "nominal"}, "y": {"field": "hi", "type": "quantitative"}}},
     {"data": {"name": "aB"}, "mark": {"type": "tick", "orient": "horizontal", "color": "black", "thickness": 1.4, "size": 7},
      "encoding": {"x": {"field": "k", "type": "nominal"}, "y": {"field": "lo", "type": "quantitative"}}},
     {"data": {"name": "aK"}, "mark": {"type": "rule", "color": "#222", "strokeWidth": 1},
      "encoding": {"x": {"field": "x1", "type": "nominal"}, "x2": {"field": "x2"}, "y": {"field": "y", "type": "quantitative"}}},
     {"data": {"name": "aK"}, "mark": {"type": "rule", "color": "#222", "strokeWidth": 1, "y2Offset": 3},
      "encoding": {"x": {"field": "x1", "type": "nominal"}, "y": {"field": "y", "type": "quantitative"}, "y2": {"field": "y"}}},
     {"data": {"name": "aK"}, "mark": {"type": "rule", "color": "#222", "strokeWidth": 1, "y2Offset": 3},
      "encoding": {"x": {"field": "x2", "type": "nominal"}, "y": {"field": "y", "type": "quantitative"}, "y2": {"field": "y"}}},
     {"data": {"name": "aK"}, "transform": [{"filter": "datum.h == 0"}], "mark": {"type": "text", "fontSize": 9, "baseline": "alphabetic", "dy": 5, "color": "#222"},
      "encoding": {"x": {"field": "sx", "type": "nominal"}, "y": {"field": "y", "type": "quantitative"}, "text": {"field": "t"}}},
     {"data": {"name": "aK"}, "transform": [{"filter": "datum.h == 1"}], "mark": {"type": "text", "fontSize": 9, "baseline": "alphabetic", "dy": 5, "color": "#222"},
      "encoding": {"x": {"field": "sx", "type": "nominal", "bandPosition": 1.214}, "y": {"field": "y", "type": "quantitative"}, "text": {"field": "t"}}}
    ]},
   {"width": 86, "height": 1, "data": {"name": "empty"}, "mark": {"type": "point", "opacity": 0}, "title": {"text": "(b)", "anchor": "start", "frame": "group", "dx": 18, "font": "Liberation Sans", "fontSize": 11, "fontWeight": "bold", "color": "#000", "offset": 19}},
   {"width": 77, "height": 105, "title": {"text": "Anova, p = 0.0002", "frame": "group", "dx": -11, "offset": 13},
    "layer": [
     {"data": {"name": "bB"}, "mark": {"type": "bar", "fill": "white", "stroke": "black", "strokeWidth": 1.6},
      "encoding": {"x": {"field": "k", "type": "nominal", "sort": null, "scale": {"domain": ["5M","13M","21M","31M"], "paddingInner": 0.3, "paddingOuter": 0.3}, "axis": {"title": null, "labelFontSize": 8}},
       "y": {"field": "m", "type": "quantitative", "scale": {"domain": [0, 800], "nice": false}, "axis": {"title": "Latency to retrieve food (s)", "values": [0,200,400,600,800], "labelFontSize": 8, "titleFontSize": 8}}}},
     {"data": {"name": "bD"}, "mark": {"type": "circle", "size": 26, "opacity": 1},
      "encoding": {"x": {"field": "k", "type": "nominal"}, "xOffset": {"field": "i", "type": "nominal", "scale": {"domain": [1,2,3,4,5,6,7,8,9,10]}}, "y": {"field": "v", "type": "quantitative"}, "color": {"condition": {"test": "datum.s == 'F'", "value": "#ff2d8c"}, "value": "#1414f0"}}},
     {"data": {"name": "bB"}, "mark": {"type": "rule", "color": "black", "strokeWidth": 1.4},
      "encoding": {"x": {"field": "k", "type": "nominal"}, "y": {"field": "lo", "type": "quantitative"}, "y2": {"field": "hi"}}},
     {"data": {"name": "bB"}, "mark": {"type": "tick", "orient": "horizontal", "color": "black", "thickness": 1.4, "size": 7},
      "encoding": {"x": {"field": "k", "type": "nominal"}, "y": {"field": "hi", "type": "quantitative"}}},
     {"data": {"name": "bB"}, "mark": {"type": "tick", "orient": "horizontal", "color": "black", "thickness": 1.4, "size": 7},
      "encoding": {"x": {"field": "k", "type": "nominal"}, "y": {"field": "lo", "type": "quantitative"}}},
     {"data": {"name": "bK"}, "mark": {"type": "rule", "color": "#222", "strokeWidth": 1},
      "encoding": {"x": {"field": "x1", "type": "nominal"}, "x2": {"field": "x2"}, "y": {"field": "y", "type": "quantitative"}}},
     {"data": {"name": "bK"}, "mark": {"type": "rule", "color": "#222", "strokeWidth": 1, "y2Offset": 3},
      "encoding": {"x": {"field": "x1", "type": "nominal"}, "y": {"field": "y", "type": "quantitative"}, "y2": {"field": "y"}}},
     {"data": {"name": "bK"}, "mark": {"type": "rule", "color": "#222", "strokeWidth": 1, "y2Offset": 3},
      "encoding": {"x": {"field": "x2", "type": "nominal"}, "y": {"field": "y", "type": "quantitative"}, "y2": {"field": "y"}}},
     {"data": {"name": "bK"}, "transform": [{"filter": "datum.h == 0"}], "mark": {"type": "text", "fontSize": 9, "baseline": "alphabetic", "dy": 5, "color": "#222"},
      "encoding": {"x": {"field": "sx", "type": "nominal"}, "y": {"field": "y", "type": "quantitative"}, "text": {"field": "t"}}},
     {"data": {"name": "bK"}, "transform": [{"filter": "datum.h == 1"}], "mark": {"type": "text", "fontSize": 9, "baseline": "alphabetic", "dy": 5, "color": "#222"},
      "encoding": {"x": {"field": "sx", "type": "nominal", "bandPosition": 1.214}, "y": {"field": "y", "type": "quantitative"}, "text": {"field": "t"}}}
    ]},
   {"width": 69, "height": 1, "data": {"name": "empty"}, "mark": {"type": "point", "opacity": 0}},
   {"width": 261, "height": 121, "title": {"text": "(c)", "anchor": "start", "frame": "group", "dx": -35, "font": "Liberation Sans", "fontSize": 11, "fontWeight": "bold", "color": "#000", "offset": -4},
    "layer": [
     {"data": {"name": "cB"}, "mark": {"type": "bar", "stroke": "black", "strokeWidth": 1.5},
      "encoding": {"x": {"field": "k", "type": "nominal", "sort": null, "scale": {"domain": ["5M|Water","5M|-6","5M|-5","5M|-4","5M|-3","gap1","13M|Water","13M|-6","13M|-5","13M|-4","13M|-3","gap2","21M|Water","21M|-6","21M|-5","21M|-4","21M|-3","gap3","31M|Water","31M|-6","31M|-5","31M|-4","31M|-3"], "paddingInner": 0.2, "paddingOuter": 0.1},
        "axis": {"title": "Log₁₀ odor concentration", "titleFontSize": 8, "titlePadding": 12, "labelFontSize": 7, "labelExpr": "split(datum.value, '|')[1]", "values": ["5M|Water","5M|-6","5M|-5","5M|-4","5M|-3","13M|Water","13M|-6","13M|-5","13M|-4","13M|-3","21M|Water","21M|-6","21M|-5","21M|-4","21M|-3","31M|Water","31M|-6","31M|-5","31M|-4","31M|-3"]}},
       "y": {"field": "m", "type": "quantitative", "scale": {"domain": [0, 8], "range": [121, 22], "nice": false}, "axis": {"title": "Sniffing time (s)", "values": [0,2,4,6,8], "labelFontSize": 7, "titleFontSize": 7}},
       "fill": {"field": "g", "type": "nominal", "scale": {"domain": ["5M","13M","21M","31M"], "range": ["#c8f5c8","#9cc3f0","#f9bd7d","#df8cf2"]},
        "legend": {"orient": "none", "legendX": 216, "legendY": -24, "title": null, "symbolType": "M-1,-0.5H1V0.5H-1Z", "symbolSize": 150, "symbolStrokeColor": "black", "symbolStrokeWidth": 1.5, "labelFontSize": 8, "rowPadding": 0, "labelOffset": 7}}}},
     {"data": {"name": "cD"}, "mark": {"type": "square", "size": 4, "opacity": 0.8},
      "encoding": {"x": {"field": "k", "type": "nominal"}, "xOffset": {"field": "i", "type": "nominal", "scale": {"domain": [1,2,3,4,5,6,7,8,9,10]}}, "y": {"field": "v", "type": "quantitative"}, "color": {"condition": {"test": "datum.s == 'F'", "value": "#ff5fa8"}, "value": "#5252ff"}}},
     {"data": {"name": "cB"}, "mark": {"type": "rule", "color": "black", "strokeWidth": 1.2},
      "encoding": {"x": {"field": "k", "type": "nominal"}, "y": {"field": "lo", "type": "quantitative"}, "y2": {"field": "hi"}}},
     {"data": {"name": "cB"}, "mark": {"type": "tick", "orient": "horizontal", "color": "black", "thickness": 1.2, "size": 5},
      "encoding": {"x": {"field": "k", "type": "nominal"}, "y": {"field": "hi", "type": "quantitative"}}},
     {"data": {"name": "cK"}, "mark": {"type": "rule", "color": "#444", "strokeWidth": 0.9},
      "encoding": {"x": {"field": "x1", "type": "nominal"}, "x2": {"field": "x2"}, "y": {"field": "y", "type": "quantitative"}}},
     {"data": {"name": "cK"}, "mark": {"type": "rule", "color": "#444", "strokeWidth": 0.9, "y2Offset": 3},
      "encoding": {"x": {"field": "x1", "type": "nominal"}, "y": {"field": "y", "type": "quantitative"}, "y2": {"field": "y"}}},
     {"data": {"name": "cK"}, "mark": {"type": "rule", "color": "#444", "strokeWidth": 0.9, "y2Offset": 3},
      "encoding": {"x": {"field": "x2", "type": "nominal"}, "y": {"field": "y", "type": "quantitative"}, "y2": {"field": "y"}}},
     {"data": {"name": "cK"}, "transform": [{"filter": "datum.h == 0"}], "mark": {"type": "text", "fontSize": 7, "baseline": "alphabetic", "dy": 4, "color": "#333"},
      "encoding": {"x": {"field": "sx", "type": "nominal"}, "y": {"field": "y", "type": "quantitative"}, "text": {"field": "t"}}},
     {"data": {"name": "cK"}, "transform": [{"filter": "datum.h == 1"}], "mark": {"type": "text", "fontSize": 7, "baseline": "alphabetic", "dy": 4, "color": "#333"},
      "encoding": {"x": {"field": "sx", "type": "nominal", "bandPosition": 1.125}, "y": {"field": "y", "type": "quantitative"}, "text": {"field": "t"}}}
    ]}
  ], "spacing": 0, "bounds": "flush", "resolve": {"scale": {"fill": "independent", "color": "independent"}, "legend": {"fill": "independent"}}},
  {"hconcat": [
   {"width": 143, "height": 95, "title": {"text": "(d)", "anchor": "start", "frame": "group", "dx": -37, "font": "Liberation Sans", "fontSize": 11, "fontWeight": "bold", "color": "#000", "offset": 18},
    "layer": [
     {"data": {"name": "dB"}, "mark": {"type": "bar", "stroke": "black", "strokeWidth": 1.5},
      "encoding": {"x": {"field": "k", "type": "nominal", "sort": null, "scale": {"domain": ["5M|Hexyl-3","5M|Octyl","gap1","13M|Hexyl-3","13M|Octyl","gap2","21M|Hexyl-3","21M|Octyl","gap3","31M|Hexyl-3","31M|Octyl"], "paddingInner": 0.2, "paddingOuter": 0.4},
        "axis": {"title": null, "labelFontSize": 7, "labelExpr": "split(datum.value, '|')[1]", "values": ["5M|Hexyl-3","5M|Octyl","13M|Hexyl-3","13M|Octyl","21M|Hexyl-3","21M|Octyl","31M|Hexyl-3","31M|Octyl"]}},
       "y": {"field": "m", "type": "quantitative", "scale": {"domain": [0, 8], "nice": false}, "axis": {"title": "Sniffing time (s)", "values": [0,2,4,6,8], "labelFontSize": 7, "titleFontSize": 7}},
       "fill": {"field": "g", "type": "nominal", "scale": {"domain": ["5M","13M","21M","31M"], "range": ["#c8f5c8","#9cc3f0","#f9bd7d","#df8cf2"]}, "legend": null}}},
     {"data": {"name": "dD"}, "mark": {"type": "square", "size": 4, "opacity": 0.8},
      "encoding": {"x": {"field": "k", "type": "nominal"}, "xOffset": {"field": "i", "type": "nominal", "scale": {"domain": [1,2,3,4,5,6,7,8,9,10]}}, "y": {"field": "v", "type": "quantitative"}, "color": {"condition": {"test": "datum.s == 'F'", "value": "#ff5fa8"}, "value": "#5252ff"}}},
     {"data": {"name": "dB"}, "mark": {"type": "rule", "color": "black", "strokeWidth": 1.2},
      "encoding": {"x": {"field": "k", "type": "nominal"}, "y": {"field": "lo", "type": "quantitative"}, "y2": {"field": "hi"}}},
     {"data": {"name": "dB"}, "mark": {"type": "tick", "orient": "horizontal", "color": "black", "thickness": 1.2, "size": 5},
      "encoding": {"x": {"field": "k", "type": "nominal"}, "y": {"field": "hi", "type": "quantitative"}}},
     {"data": {"name": "dK"}, "mark": {"type": "rule", "color": "#444", "strokeWidth": 0.9},
      "encoding": {"x": {"field": "x1", "type": "nominal"}, "x2": {"field": "x2"}, "y": {"field": "y", "type": "quantitative"}}},
     {"data": {"name": "dK"}, "mark": {"type": "rule", "color": "#444", "strokeWidth": 0.9, "y2Offset": 3},
      "encoding": {"x": {"field": "x1", "type": "nominal"}, "y": {"field": "y", "type": "quantitative"}, "y2": {"field": "y"}}},
     {"data": {"name": "dK"}, "mark": {"type": "rule", "color": "#444", "strokeWidth": 0.9, "y2Offset": 3},
      "encoding": {"x": {"field": "x2", "type": "nominal"}, "y": {"field": "y", "type": "quantitative"}, "y2": {"field": "y"}}},
     {"data": {"name": "dK"}, "mark": {"type": "text", "fontSize": 7, "baseline": "alphabetic", "dy": 4, "color": "#333"},
      "encoding": {"x": {"field": "sx", "type": "nominal", "bandPosition": 1.125}, "y": {"field": "y", "type": "quantitative"}, "text": {"field": "t"}}}
    ]},
   {"width": 53, "height": 1, "data": {"name": "empty"}, "mark": {"type": "point", "opacity": 0}},
   {"width": 140, "height": 92, "title": {"text": "(e)", "anchor": "start", "frame": "group", "dx": -48, "font": "Liberation Sans", "fontSize": 11, "fontWeight": "bold", "color": "#000", "offset": 19},
    "layer": [
     {"data": {"name": "eB"}, "mark": {"type": "bar", "stroke": "black", "strokeWidth": 1.5},
      "encoding": {"x": {"field": "k", "type": "nominal", "sort": null, "scale": {"domain": ["5M|Lemon-3","5M|Lime","gap1","13M|Lemon-3","13M|Lime","gap2","21M|Lemon-3","21M|Lime","gap3","31M|Lemon-3","31M|Lime"], "paddingInner": 0.2, "paddingOuter": 0.4},
        "axis": {"title": null, "labelFontSize": 7, "labelExpr": "split(datum.value, '|')[1]", "values": ["5M|Lemon-3","5M|Lime","13M|Lemon-3","13M|Lime","21M|Lemon-3","21M|Lime","31M|Lemon-3","31M|Lime"]}},
       "y": {"field": "m", "type": "quantitative", "scale": {"domain": [0, 8], "nice": false}, "axis": {"title": "Sniffing time (s)", "values": [0,2,4,6,8], "labelFontSize": 6.5, "titleFontSize": 7}},
       "fill": {"field": "g", "type": "nominal", "scale": {"domain": ["5M","13M","21M","31M"], "range": ["#c8f5c8","#9cc3f0","#f9bd7d","#df8cf2"]}, "legend": null}}},
     {"data": {"name": "eD"}, "mark": {"type": "square", "size": 4, "opacity": 0.8},
      "encoding": {"x": {"field": "k", "type": "nominal"}, "xOffset": {"field": "i", "type": "nominal", "scale": {"domain": [1,2,3,4,5,6,7,8,9,10]}}, "y": {"field": "v", "type": "quantitative"}, "color": {"condition": {"test": "datum.s == 'F'", "value": "#ff5fa8"}, "value": "#444466"}}},
     {"data": {"name": "eB"}, "mark": {"type": "rule", "color": "black", "strokeWidth": 1.2},
      "encoding": {"x": {"field": "k", "type": "nominal"}, "y": {"field": "lo", "type": "quantitative"}, "y2": {"field": "hi"}}},
     {"data": {"name": "eB"}, "mark": {"type": "tick", "orient": "horizontal", "color": "black", "thickness": 1.2, "size": 5},
      "encoding": {"x": {"field": "k", "type": "nominal"}, "y": {"field": "hi", "type": "quantitative"}}},
     {"data": {"name": "eK"}, "mark": {"type": "rule", "color": "#444", "strokeWidth": 0.9},
      "encoding": {"x": {"field": "x1", "type": "nominal"}, "x2": {"field": "x2"}, "y": {"field": "y", "type": "quantitative"}}},
     {"data": {"name": "eK"}, "mark": {"type": "rule", "color": "#444", "strokeWidth": 0.9, "y2Offset": 3},
      "encoding": {"x": {"field": "x1", "type": "nominal"}, "y": {"field": "y", "type": "quantitative"}, "y2": {"field": "y"}}},
     {"data": {"name": "eK"}, "mark": {"type": "rule", "color": "#444", "strokeWidth": 0.9, "y2Offset": 3},
      "encoding": {"x": {"field": "x2", "type": "nominal"}, "y": {"field": "y", "type": "quantitative"}, "y2": {"field": "y"}}},
     {"data": {"name": "eK"}, "mark": {"type": "text", "fontSize": 7, "baseline": "alphabetic", "dy": 4, "color": "#333"},
      "encoding": {"x": {"field": "sx", "type": "nominal", "bandPosition": 1.125}, "y": {"field": "y", "type": "quantitative"}, "text": {"field": "t"}}}
    ]},
   {"width": 45, "height": 1, "data": {"name": "empty"}, "mark": {"type": "point", "opacity": 0}},
   {"width": 134, "height": 88, "title": {"text": "(f)", "anchor": "start", "frame": "group", "dx": -43, "font": "Liberation Sans", "fontSize": 11, "fontWeight": "bold", "color": "#000", "offset": 8},
    "layer": [
     {"data": {"name": "fB"}, "mark": {"type": "bar", "stroke": "black", "strokeWidth": 1.5},
      "encoding": {"x": {"field": "k", "type": "nominal", "sort": null, "scale": {"domain": ["5M|Urine A+B-3","5M|Urine C+D","gap1","13M|Urine A+B-3","13M|Urine C+D","gap2","21M|Urine A+B-3","21M|Urine C+D","gap3","31M|Urine A+B-3","31M|Urine C+D"], "paddingInner": 0.2, "paddingOuter": 0.58},
        "axis": {"title": null, "labelFontSize": 6, "labelExpr": "split(datum.value, '|')[1]", "values": ["5M|Urine A+B-3","5M|Urine C+D","13M|Urine A+B-3","13M|Urine C+D","21M|Urine A+B-3","21M|Urine C+D","31M|Urine A+B-3","31M|Urine C+D"]}},
       "y": {"field": "m", "type": "quantitative", "scale": {"domain": [0, 8], "nice": false}, "axis": {"title": "Sniffing time (s)", "values": [0,2,4,6,8], "labelFontSize": 6.5, "titleFontSize": 7}},
       "fill": {"field": "g", "type": "nominal", "scale": {"domain": ["5M","13M","21M","31M"], "range": ["#c8f5c8","#a21bcc","#0b0bea","#f5841c"]},
        "legend": {"orient": "none", "legendX": 138, "legendY": -12, "title": null, "symbolType": "M-1.2,-0.55H1.2V0.55H-1.2Z", "symbolSize": 100, "symbolStrokeColor": "black", "symbolStrokeWidth": 1.5, "labelFontSize": 7.5, "rowPadding": 0, "labelOffset": 4}}}},
     {"data": {"name": "fD"}, "mark": {"type": "square", "size": 4, "opacity": 0.8},
      "encoding": {"x": {"field": "k", "type": "nominal"}, "xOffset": {"field": "i", "type": "nominal", "scale": {"domain": [1,2,3,4,5,6,7,8,9,10]}}, "y": {"field": "v", "type": "quantitative"}, "color": {"condition": {"test": "datum.s == 'F'", "value": "#ff7fb8"}, "value": "#8080ff"}}},
     {"data": {"name": "fB"}, "mark": {"type": "rule", "color": "black", "strokeWidth": 1.2},
      "encoding": {"x": {"field": "k", "type": "nominal"}, "y": {"field": "lo", "type": "quantitative"}, "y2": {"field": "hi"}}},
     {"data": {"name": "fB"}, "mark": {"type": "tick", "orient": "horizontal", "color": "black", "thickness": 1.2, "size": 5},
      "encoding": {"x": {"field": "k", "type": "nominal"}, "y": {"field": "hi", "type": "quantitative"}}},
     {"data": {"name": "fK"}, "mark": {"type": "rule", "color": "#444", "strokeWidth": 0.9},
      "encoding": {"x": {"field": "x1", "type": "nominal"}, "x2": {"field": "x2"}, "y": {"field": "y", "type": "quantitative"}}},
     {"data": {"name": "fK"}, "mark": {"type": "rule", "color": "#444", "strokeWidth": 0.9, "y2Offset": 3},
      "encoding": {"x": {"field": "x1", "type": "nominal"}, "y": {"field": "y", "type": "quantitative"}, "y2": {"field": "y"}}},
     {"data": {"name": "fK"}, "mark": {"type": "rule", "color": "#444", "strokeWidth": 0.9, "y2Offset": 3},
      "encoding": {"x": {"field": "x2", "type": "nominal"}, "y": {"field": "y", "type": "quantitative"}, "y2": {"field": "y"}}},
     {"data": {"name": "fK"}, "mark": {"type": "text", "fontSize": 5, "baseline": "alphabetic", "dy": -1, "color": "#333"},
      "encoding": {"x": {"field": "sx", "type": "nominal", "bandPosition": 1.125}, "y": {"field": "y", "type": "quantitative"}, "text": {"field": "t"}}}
    ]}
  ], "spacing": 0, "bounds": "flush", "resolve": {"scale": {"fill": "independent", "color": "independent"}, "legend": {"fill": "independent"}}}
 ], "spacing": 10, "bounds": "full", "resolve": {"scale": {"fill": "independent", "color": "independent"}, "legend": {"fill": "independent"}}},
 {"hconcat": [
  {"width": 10, "height": 1, "data": {"name": "empty"}, "mark": {"type": "point", "opacity": 0}, "title": {"text": "(g)", "anchor": "start", "frame": "group", "dx": -37, "font": "Liberation Sans", "fontSize": 11, "fontWeight": "bold", "color": "#000", "offset": 17}},
  {"width": 63, "height": 105, "title": {"text": "Anova, p = 0.009", "subtitle": "Hexyl-1", "frame": "group", "offset": 6},
   "layer": [
    {"data": {"name": "g1B"}, "mark": {"type": "bar", "stroke": "black", "strokeWidth": 1.5},
     "encoding": {"x": {"field": "k", "type": "nominal", "sort": null, "scale": {"domain": ["5M","13M","21M","31M"], "paddingInner": 0.25, "paddingOuter": 0.1}, "axis": {"title": null, "labelFontSize": 7.5}},
      "y": {"field": "m", "type": "quantitative", "scale": {"domain": [0, 8], "range": [105, 7], "nice": false}, "axis": {"title": "Sniffing time (s)", "values": [0,4,8], "labelFontSize": 7.5, "titleFontSize": 7.5}},
      "fill": {"field": "k", "type": "nominal", "scale": {"domain": ["5M","13M","21M","31M"], "range": ["#c8f5c8","#9cc3f0","#f9bd7d","#df8cf2"]}, "legend": null}}},
    {"data": {"name": "g1D"}, "mark": {"type": "circle", "size": 15, "opacity": 1},
     "encoding": {"x": {"field": "k", "type": "nominal"}, "xOffset": {"field": "i", "type": "nominal", "scale": {"domain": [1,2,3,4,5,6,7,8,9,10]}}, "y": {"field": "v", "type": "quantitative"}, "color": {"condition": {"test": "datum.s == 'F'", "value": "#ff2d8c"}, "value": "#1c1cf0"}}},
    {"data": {"name": "g1B"}, "mark": {"type": "rule", "color": "black", "strokeWidth": 1.3},
     "encoding": {"x": {"field": "k", "type": "nominal"}, "y": {"field": "lo", "type": "quantitative"}, "y2": {"field": "hi"}}},
    {"data": {"name": "g1B"}, "mark": {"type": "tick", "orient": "horizontal", "color": "black", "thickness": 1.3, "size": 6},
     "encoding": {"x": {"field": "k", "type": "nominal"}, "y": {"field": "hi", "type": "quantitative"}}},
    {"data": {"name": "g1B"}, "mark": {"type": "tick", "orient": "horizontal", "color": "black", "thickness": 1.3, "size": 6},
     "encoding": {"x": {"field": "k", "type": "nominal"}, "y": {"field": "lo", "type": "quantitative"}}},
    {"data": {"name": "g1K"}, "mark": {"type": "rule", "color": "#444", "strokeWidth": 0.9},
     "encoding": {"x": {"field": "x1", "type": "nominal"}, "x2": {"field": "x2"}, "y": {"field": "y", "type": "quantitative"}}},
    {"data": {"name": "g1K"}, "mark": {"type": "rule", "color": "#444", "strokeWidth": 0.9, "y2Offset": 3},
     "encoding": {"x": {"field": "x1", "type": "nominal"}, "y": {"field": "y", "type": "quantitative"}, "y2": {"field": "y"}}},
    {"data": {"name": "g1K"}, "mark": {"type": "rule", "color": "#444", "strokeWidth": 0.9, "y2Offset": 3},
     "encoding": {"x": {"field": "x2", "type": "nominal"}, "y": {"field": "y", "type": "quantitative"}, "y2": {"field": "y"}}},
    {"data": {"name": "g1K"}, "mark": {"type": "text", "fontSize": 7, "baseline": "alphabetic", "dy": 4, "color": "#333"},
     "encoding": {"x": {"field": "sx", "type": "nominal", "bandPosition": 1.1667}, "y": {"field": "y", "type": "quantitative"}, "text": {"field": "t"}}}
   ]},
  {"width": 133, "height": 1, "data": {"name": "empty"}, "mark": {"type": "point", "opacity": 0}},
  {"width": 64, "height": 105, "title": {"text": "Anova, p = 0.001", "subtitle": "Lemon-1", "frame": "group", "offset": 6},
   "layer": [
    {"data": {"name": "g2B"}, "mark": {"type": "bar", "stroke": "black", "strokeWidth": 1.5},
     "encoding": {"x": {"field": "k", "type": "nominal", "sort": null, "scale": {"domain": ["5M","13M","21M","31M"], "paddingInner": 0.25, "paddingOuter": 0.15}, "axis": {"title": null, "labelFontSize": 7.5}},
      "y": {"field": "m", "type": "quantitative", "scale": {"domain": [0, 12], "range": [105, 7], "nice": false}, "axis": {"title": "Sniffing time (s)", "values": [0,4,8,12], "labelFontSize": 7.5, "titleFontSize": 7.5}},
      "fill": {"field": "k", "type": "nominal", "scale": {"domain": ["5M","13M","21M","31M"], "range": ["#c8f5c8","#9cc3f0","#f9bd7d","#df8cf2"]}, "legend": null}}},
    {"data": {"name": "g2D"}, "mark": {"type": "circle", "size": 15, "opacity": 1},
     "encoding": {"x": {"field": "k", "type": "nominal"}, "xOffset": {"field": "i", "type": "nominal", "scale": {"domain": [1,2,3,4,5,6,7,8,9,10]}}, "y": {"field": "v", "type": "quantitative"}, "color": {"condition": {"test": "datum.s == 'F'", "value": "#ff2d8c"}, "value": "#1c1cf0"}}},
    {"data": {"name": "g2B"}, "mark": {"type": "rule", "color": "black", "strokeWidth": 1.3},
     "encoding": {"x": {"field": "k", "type": "nominal"}, "y": {"field": "lo", "type": "quantitative"}, "y2": {"field": "hi"}}},
    {"data": {"name": "g2B"}, "mark": {"type": "tick", "orient": "horizontal", "color": "black", "thickness": 1.3, "size": 6},
     "encoding": {"x": {"field": "k", "type": "nominal"}, "y": {"field": "hi", "type": "quantitative"}}},
    {"data": {"name": "g2B"}, "mark": {"type": "tick", "orient": "horizontal", "color": "black", "thickness": 1.3, "size": 6},
     "encoding": {"x": {"field": "k", "type": "nominal"}, "y": {"field": "lo", "type": "quantitative"}}},
    {"data": {"name": "g2K"}, "mark": {"type": "rule", "color": "#444", "strokeWidth": 0.9},
     "encoding": {"x": {"field": "x1", "type": "nominal"}, "x2": {"field": "x2"}, "y": {"field": "y", "type": "quantitative"}}},
    {"data": {"name": "g2K"}, "mark": {"type": "rule", "color": "#444", "strokeWidth": 0.9, "y2Offset": 3},
     "encoding": {"x": {"field": "x1", "type": "nominal"}, "y": {"field": "y", "type": "quantitative"}, "y2": {"field": "y"}}},
    {"data": {"name": "g2K"}, "mark": {"type": "rule", "color": "#444", "strokeWidth": 0.9, "y2Offset": 3},
     "encoding": {"x": {"field": "x2", "type": "nominal"}, "y": {"field": "y", "type": "quantitative"}, "y2": {"field": "y"}}},
    {"data": {"name": "g2K"}, "transform": [{"filter": "datum.h == 0"}], "mark": {"type": "text", "fontSize": 7, "baseline": "alphabetic", "dy": 4, "color": "#333"},
     "encoding": {"x": {"field": "sx", "type": "nominal"}, "y": {"field": "y", "type": "quantitative"}, "text": {"field": "t"}}},
    {"data": {"name": "g2K"}, "transform": [{"filter": "datum.h == 1"}], "mark": {"type": "text", "fontSize": 7, "baseline": "alphabetic", "dy": 4, "color": "#333"},
     "encoding": {"x": {"field": "sx", "type": "nominal", "bandPosition": 1.1667}, "y": {"field": "y", "type": "quantitative"}, "text": {"field": "t"}}}
   ]},
  {"width": 109, "height": 1, "data": {"name": "empty"}, "mark": {"type": "point", "opacity": 0}},
  {"width": 69, "height": 99, "title": {"text": "Anova, p = 0.001", "subtitle": "Urine A+B-1", "frame": "group", "offset": 7},
   "layer": [
    {"data": {"name": "g3B"}, "mark": {"type": "bar", "stroke": "black", "strokeWidth": 1.5},
     "encoding": {"x": {"field": "k", "type": "nominal", "sort": null, "scale": {"domain": ["5M","13M","21M","31M"], "paddingInner": 0.25, "paddingOuter": 0.3}, "axis": {"title": null, "labelFontSize": 7.5}},
      "y": {"field": "m", "type": "quantitative", "scale": {"domain": [0, 20], "nice": false}, "axis": {"title": "Sniffing time (s)", "values": [0,5,10,15,20], "labelFontSize": 7.5, "titleFontSize": 7.5}},
      "fill": {"field": "k", "type": "nominal", "scale": {"domain": ["5M","13M","21M","31M"], "range": ["#c8f5c8","#9cc3f0","#f9bd7d","#df8cf2"]}, "legend": null}}},
    {"data": {"name": "g3D"}, "mark": {"type": "circle", "size": 15, "opacity": 1},
     "encoding": {"x": {"field": "k", "type": "nominal"}, "xOffset": {"field": "i", "type": "nominal", "scale": {"domain": [1,2,3,4,5,6,7,8,9,10]}}, "y": {"field": "v", "type": "quantitative"}, "color": {"condition": {"test": "datum.s == 'F'", "value": "#ff2d8c"}, "value": "#1c1cf0"}}},
    {"data": {"name": "g3B"}, "mark": {"type": "rule", "color": "black", "strokeWidth": 1.3},
     "encoding": {"x": {"field": "k", "type": "nominal"}, "y": {"field": "lo", "type": "quantitative"}, "y2": {"field": "hi"}}},
    {"data": {"name": "g3B"}, "mark": {"type": "tick", "orient": "horizontal", "color": "black", "thickness": 1.3, "size": 6},
     "encoding": {"x": {"field": "k", "type": "nominal"}, "y": {"field": "hi", "type": "quantitative"}}},
    {"data": {"name": "g3B"}, "mark": {"type": "tick", "orient": "horizontal", "color": "black", "thickness": 1.3, "size": 6},
     "encoding": {"x": {"field": "k", "type": "nominal"}, "y": {"field": "lo", "type": "quantitative"}}},
    {"data": {"name": "g3K"}, "mark": {"type": "rule", "color": "#444", "strokeWidth": 0.9},
     "encoding": {"x": {"field": "x1", "type": "nominal"}, "x2": {"field": "x2"}, "y": {"field": "y", "type": "quantitative"}}},
    {"data": {"name": "g3K"}, "mark": {"type": "rule", "color": "#444", "strokeWidth": 0.9, "y2Offset": 3},
     "encoding": {"x": {"field": "x1", "type": "nominal"}, "y": {"field": "y", "type": "quantitative"}, "y2": {"field": "y"}}},
    {"data": {"name": "g3K"}, "mark": {"type": "rule", "color": "#444", "strokeWidth": 0.9, "y2Offset": 3},
     "encoding": {"x": {"field": "x2", "type": "nominal"}, "y": {"field": "y", "type": "quantitative"}, "y2": {"field": "y"}}},
    {"data": {"name": "g3K"}, "transform": [{"filter": "datum.h == 0"}], "mark": {"type": "text", "fontSize": 7, "baseline": "alphabetic", "dy": 4, "color": "#333"},
     "encoding": {"x": {"field": "sx", "type": "nominal"}, "y": {"field": "y", "type": "quantitative"}, "text": {"field": "t"}}},
    {"data": {"name": "g3K"}, "transform": [{"filter": "datum.h == 1"}], "mark": {"type": "text", "fontSize": 7, "baseline": "alphabetic", "dy": 4, "color": "#333"},
     "encoding": {"x": {"field": "sx", "type": "nominal", "bandPosition": 1.1667}, "y": {"field": "y", "type": "quantitative"}, "text": {"field": "t"}}}
   ]}
 ], "spacing": 0, "bounds": "flush", "resolve": {"scale": {"fill": "independent", "color": "independent"}, "legend": {"fill": "independent"}}}
]
}
